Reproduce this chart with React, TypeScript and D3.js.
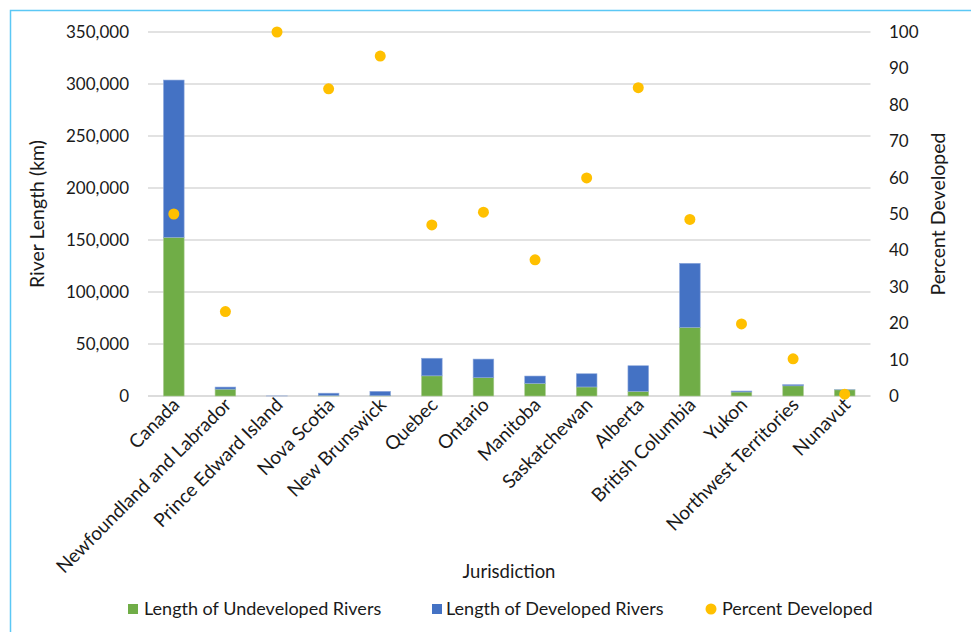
import React from "react";
import * as d3 from "d3";

const categories = [
  "Canada",
  "Newfoundland and Labrador",
  "Prince Edward Island",
  "Nova Scotia",
  "New Brunswick",
  "Quebec",
  "Ontario",
  "Manitoba",
  "Saskatchewan",
  "Alberta",
  "British Columbia",
  "Yukon",
  "Northwest Territories",
  "Nunavut",
];
const undeveloped = [152600, 6600, 0, 420, 300, 19400, 17600, 12100, 8700, 4500, 66000, 3850, 9800, 5950];
const developed = [151200, 2000, 60, 2300, 4200, 16900, 17900, 7100, 12700, 24600, 61600, 950, 1100, 30];
const percentDeveloped = [50.0, 23.2, 100, 84.4, 93.4, 47.0, 50.5, 37.4, 59.9, 84.7, 48.5, 19.8, 10.2, 0.5];
const leftTicks = [0, 50000, 100000, 150000, 200000, 250000, 300000, 350000];
const rightTicks = [0, 10, 20, 30, 40, 50, 60, 70, 80, 90, 100];

const W = 971;
const H = 632;
const FONT = "Lato, 'Open Sans', sans-serif";
const GREEN = "#70ad47";
const BLUE = "#4472c4";
const GOLD = "#ffc000";
const TXT = "#1a1a1a";

export default function App() {
  const x = d3.scaleBand<string>().domain(categories).range([148, 870.5]).paddingInner(0.6).paddingOuter(0.3);
  const yL = d3.scaleLinear().domain([0, 350000]).range([396, 32]);
  const yR = d3.scaleLinear().domain([0, 100]).range([396, 32]);
  const fmt = d3.format(",");
  const bw = x.bandwidth();

  return (
    <svg width={W} height={H} style={{ position: "absolute", left: 0, top: 0, background: "#fff" }} fontFamily={FONT}>
      <rect x={10.5} y={10.5} width={1100} height={800} fill="none" stroke="#5bc8f5" strokeWidth={1.5} />
      {leftTicks.map((t) => (
        <line key={"g" + t} x1={148} x2={870.5} y1={yL(t)} y2={yL(t)} stroke={t === 0 ? "#d0d0d0" : "#d9d9d9"} strokeWidth={1.3} />
      ))}
      {leftTicks.map((t) => (
        <text key={"l" + t} x={129} y={yL(t)} dy="0.35em" textAnchor="end" fontSize={17} fill={TXT}>
          {fmt(t)}
        </text>
      ))}
      {rightTicks.map((t) => (
        <text key={"r" + t} x={889} y={yR(t)} dy="0.35em" textAnchor="start" fontSize={17} fill={TXT}>
          {t}
        </text>
      ))}
      {categories.map((c, i) => {
        const x0 = x(c)!;
        const u = undeveloped[i];
        const dv = developed[i];
        return (
          <g key={c}>
            <rect x={x0} y={yL(u)} width={bw} height={yL(0) - yL(u)} fill={GREEN} stroke="#a9c98f" strokeWidth={0.6} />
            <rect x={x0} y={yL(u + dv)} width={bw} height={yL(u) - yL(u + dv)} fill={BLUE} stroke="#8fa9dc" strokeWidth={0.6} />
          </g>
        );
      })}
      {categories.map((c, i) => (
        <circle key={"p" + c} cx={x(c)! + bw / 2} cy={yR(percentDeveloped[i])} r={5.5} fill={GOLD} />
      ))}
      {categories.map((c) => {
        const cx = x(c)! + bw / 2 + 7;
        const cy = 406;
        return (
          <text key={"t" + c} x={cx} y={cy} transform={`rotate(-45 ${cx} ${cy})`} textAnchor="end" fontSize={19} fill={TXT}>
            {c}
          </text>
        );
      })}
      <text x={37} y={214} transform="rotate(-90 37 214)" textAnchor="middle" dy="0.35em" fontSize={19.5} fill={TXT}>
        River Length (km)
      </text>
      <text x={938} y={214} transform="rotate(-90 938 214)" textAnchor="middle" dy="0.35em" fontSize={19.5} fill={TXT}>
        Percent Developed
      </text>
      <text x={509} y={572} textAnchor="middle" dy="0.35em" fontSize={18.5} fill={TXT}>
        Jurisdiction
      </text>
      <g fontSize={18} fill={TXT}>
        <rect x={128} y={604} width={10} height={10} fill={GREEN} />
        <text x={144} y={609} dy="0.35em">Length of Undeveloped Rivers</text>
        <rect x={432} y={604} width={10} height={10} fill={BLUE} />
        <text x={446} y={609} dy="0.35em">Length of Developed Rivers</text>
        <circle cx={711} cy={609} r={5.5} fill={GOLD} />
        <text x={722} y={609} dy="0.35em">Percent Developed</text>
      </g>
    </svg>
  );
}
